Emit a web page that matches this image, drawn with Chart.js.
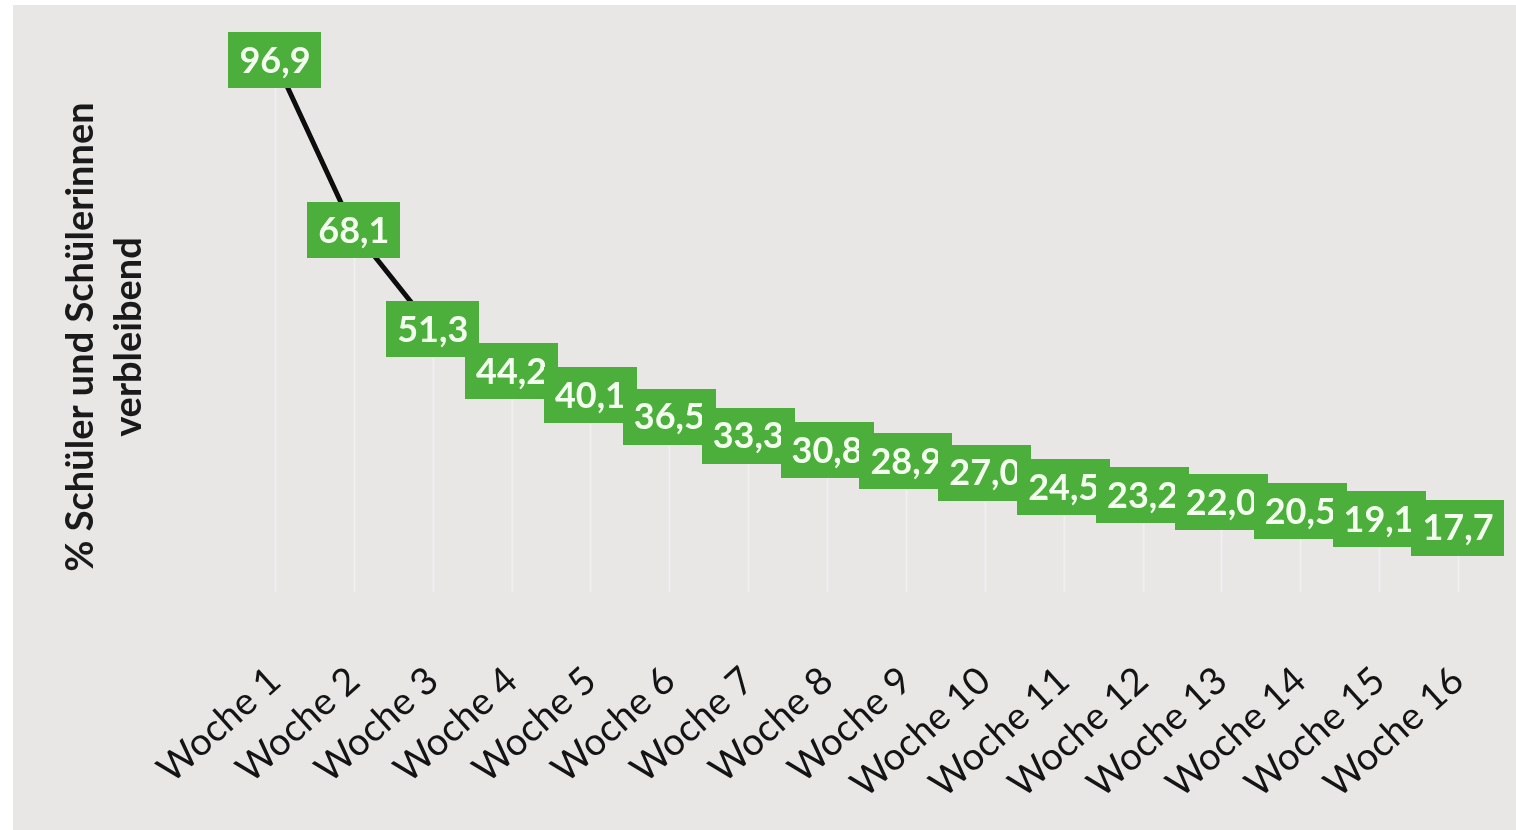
<!DOCTYPE html>
<html lang="de">
<head>
<meta charset="utf-8">
<title>Verbleibende Schüler und Schülerinnen</title>
<script src="https://cdn.jsdelivr.net/npm/chart.js@4.4.1/dist/chart.umd.min.js"></script>
<style>
  html, body { margin: 0; padding: 0; background: #ffffff; }
  #wrap {
    position: absolute;
    left: 13px; top: 5px;
    width: 1503px; height: 825px;
    background: #e9e6e6;
  }
</style>
</head>
<body>
<div id="wrap"><canvas id="chart-verbleibend"></canvas></div>
<script>
// Wochen und Anteil verbleibender Schüler/innen in %
const wochen = ['Woche 1', 'Woche 2', 'Woche 3', 'Woche 4', 'Woche 5', 'Woche 6', 'Woche 7', 'Woche 8',
                'Woche 9', 'Woche 10', 'Woche 11', 'Woche 12', 'Woche 13', 'Woche 14', 'Woche 15', 'Woche 16'];
const verbleibend = [96.9, 68.1, 51.3, 44.2, 40.1, 36.5, 33.3, 30.8, 28.9, 27.0, 24.5, 23.2, 22.0, 20.5, 19.1, 17.7];
const yTitel = ['% Schüler und Schülerinnen', 'verbleibend'];

const gruen = '#4caf3b';

// feine Fallinien unter jedem Punkt
const fallLinien = {
    id: 'fallLinien',
    beforeDatasetsDraw(chart) {
        const ctx = chart.ctx;
        const meta = chart.getDatasetMeta(0);
        ctx.save();
        ctx.strokeStyle = 'rgba(255, 255, 255, 0.35)';
        ctx.lineWidth = 2;
        meta.data.forEach(function(pt) {
            ctx.beginPath();
            ctx.moveTo(Math.round(pt.x) + 0.5, pt.y);
            ctx.lineTo(Math.round(pt.x) + 0.5, chart.chartArea.bottom - 40);
            ctx.stroke();
        });
        ctx.restore();
    }
};

// grüne Wertekästchen mit Komma als Dezimaltrenner
const wertLabels = {
    id: 'wertLabels',
    afterDatasetsDraw(chart) {
        const ctx = chart.ctx;
        const meta = chart.getDatasetMeta(0);
        ctx.save();
        ctx.font = 'bold 36px Lato, "Open Sans", sans-serif';
        ctx.textAlign = 'center';
        ctx.textBaseline = 'middle';
        meta.data.forEach(function(pt, i) {
            const text = verbleibend[i].toFixed(1).replace('.', ',');
            const w = ctx.measureText(text).width + 22;
            const h = 56;
            ctx.fillStyle = gruen;
            ctx.fillRect(Math.round(pt.x - w / 2), Math.round(pt.y - h / 2), Math.round(w), h);
            ctx.fillStyle = '#f4fff0';
            ctx.fillText(text, pt.x, pt.y + 1);
        });
        ctx.restore();
    }
};

new Chart(document.getElementById('chart-verbleibend'), {
    type: 'line',
    data: {
        labels: wochen,
        datasets: [{
            data: verbleibend,
            borderColor: '#0d0d0d',
            borderWidth: 5,
            pointRadius: 0,
            tension: 0,
            fill: false
        }]
    },
    options: {
        responsive: true,
        maintainAspectRatio: false,
        animation: false,
        layout: { padding: { top: 37, right: 58, bottom: 0, left: 0 } },
        plugins: {
            legend: { display: false },
            tooltip: { enabled: false }
        },
        scales: {
            x: {
                offset: false,
                grid: { display: false },
                border: { display: false },
                ticks: {
                    color: '#141414',
                    font: { family: 'Lato, "Open Sans", sans-serif', size: 38 },
                    minRotation: 42,
                    maxRotation: 42,
                    padding: 18,
                    autoSkip: false
                },
                afterFit: function(scale) { scale.height = 198; }
            },
            y: {
                min: 0,
                max: 100,
                grid: { display: false },
                border: { display: false },
                ticks: { display: false },
                title: {
                    display: true,
                    text: yTitel,
                    color: '#1a1a1a',
                    font: { family: 'Lato, "Open Sans", sans-serif', size: 38, weight: 'bold', lineHeight: 1.25 },
                    padding: { top: 44, bottom: 0 }
                },
                afterFit: function(scale) { scale.width = 262; }
            }
        }
    },
    plugins: [fallLinien, wertLabels]
});
</script>
</body>
</html>
